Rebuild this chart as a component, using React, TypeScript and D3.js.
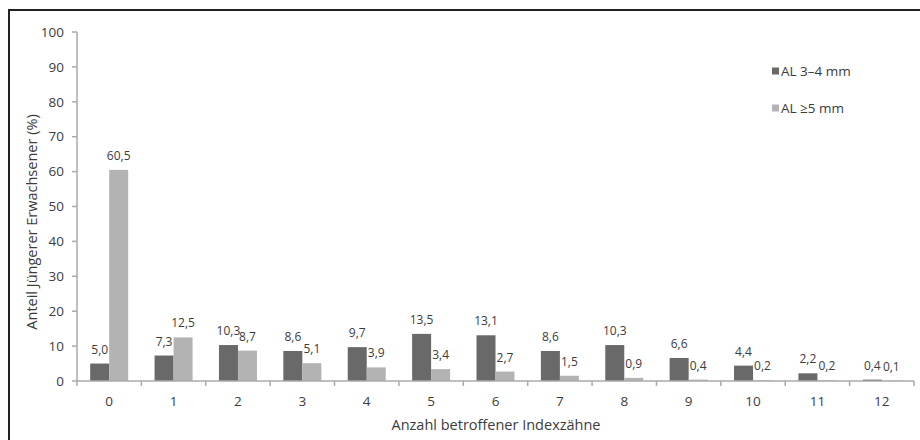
import React from 'react';
import * as d3 from 'd3';

const categories = ['0', '1', '2', '3', '4', '5', '6', '7', '8', '9', '10', '11', '12'];
const al34 = [5.0, 7.3, 10.3, 8.6, 9.7, 13.5, 13.1, 8.6, 10.3, 6.6, 4.4, 2.2, 0.4];
const al5 = [60.5, 12.5, 8.7, 5.1, 3.9, 3.4, 2.7, 1.5, 0.9, 0.4, 0.2, 0.2, 0.1];
const seriesNames = ['AL 3–4 mm', 'AL ≥5 mm'];
const yTicks = [0, 10, 20, 30, 40, 50, 60, 70, 80, 90, 100];

const W = 920;
const H = 440;
const font = '"Open Sans", sans-serif';
const textColor = '#3c3c3c';
const axisColor = '#aaaaaa';
const colors = ['#696969', '#b3b3b3'];

const App: React.FC = () => {
  const x = d3.scaleBand<string>().domain(categories).range([77, 914]);
  const inner = d3.scaleBand<number>().domain([0, 1]).range([0, 38]);
  const y = d3.scaleLinear().domain([0, 100]).range([381, 32]);
  const fmt = (v: number) => v.toFixed(1).replace('.', ',');
  const series = [al34, al5];

  return (
    <svg width={W} height={H} style={{ position: 'absolute', left: 0, top: 0, background: '#fff' }}>
      <rect x={0} y={0} width={W} height={H} fill="#fff" />
      <path d={`M9,${H} V10 H${W}`} fill="none" stroke="#222" strokeWidth={2} />

      {/* y axis */}
      <line x1={77} x2={77} y1={y(100)} y2={y(0)} stroke={axisColor} strokeWidth={1.5} />
      {yTicks.map(t => (
        <g key={t}>
          <line x1={72} x2={77} y1={y(t)} y2={y(t)} stroke={axisColor} strokeWidth={1.5} />
          <text x={64} y={y(t)} dy="0.35em" textAnchor="end" fontSize={13.5} fontFamily={font} fill={textColor}>
            {t}
          </text>
        </g>
      ))}
      <text
        transform={`translate(32,222) rotate(-90)`}
        textAnchor="middle"
        dy="0.35em"
        fontSize={14.5}
        fontFamily={font}
        fill={textColor}
      >
        Anteil Jüngerer Erwachsener (%)
      </text>

      {/* bars */}
      {categories.map((c, i) => {
        const x0 = (x(c) as number) + x.bandwidth() / 2 - 19;
        return (
          <g key={c}>
            {series.map((s, k) => {
              const bx = x0 + (inner(k) as number);
              return (
                <g key={k}>
                  <rect x={bx} y={y(s[i])} width={inner.bandwidth()} height={y(0) - y(s[i])} fill={colors[k]} />
                  <text
                    x={bx + inner.bandwidth() / 2}
                    y={y(s[i]) - 10}
                    textAnchor="middle"
                    fontSize={12}
                    fontFamily={font}
                    fill={textColor}
                  >
                    {fmt(s[i])}
                  </text>
                </g>
              );
            })}
          </g>
        );
      })}

      {/* x axis */}
      <line x1={77} x2={914} y1={y(0)} y2={y(0)} stroke={axisColor} strokeWidth={1.5} />
      {categories.concat(['end']).map((c, i) => {
        const tx = 77 + i * x.step();
        return <line key={'t' + i} x1={tx} x2={tx} y1={y(0)} y2={y(0) + 5} stroke={axisColor} strokeWidth={1.5} />;
      })}
      {categories.map(c => (
        <text
          key={'l' + c}
          x={(x(c) as number) + x.bandwidth() / 2}
          y={401}
          dy="0.35em"
          textAnchor="middle"
          fontSize={13.5}
          fontFamily={font}
          fill={textColor}
        >
          {c}
        </text>
      ))}
      <text x={496} y={425} dy="0.35em" textAnchor="middle" fontSize={14.5} fontFamily={font} fill={textColor}>
        Anzahl betroffener Indexzähne
      </text>

      {/* legend */}
      {seriesNames.map((n, k) => (
        <g key={n} transform={`translate(772,${71 + k * 37})`}>
          <rect x={0} y={-3.5} width={7} height={7} fill={colors[k]} />
          <text x={9} y={0} dy="0.35em" fontSize={13.5} fontFamily={font} fill={textColor}>
            {n}
          </text>
        </g>
      ))}
    </svg>
  );
};

export default App;
